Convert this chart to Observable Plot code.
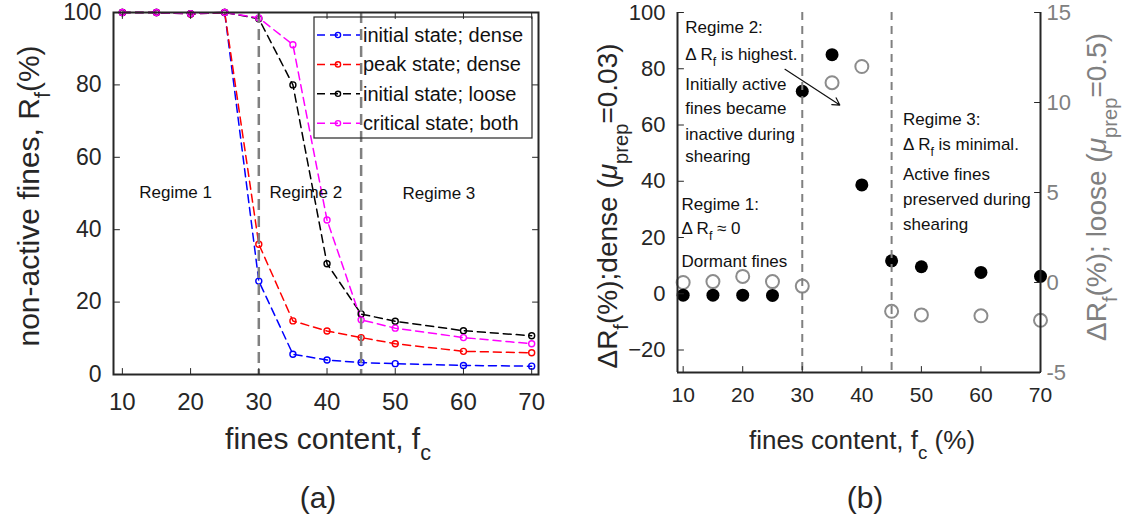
<!DOCTYPE html>
<html><head><meta charset="utf-8">
<script src="https://cdn.jsdelivr.net/npm/d3@7"></script>
<script src="https://cdn.jsdelivr.net/npm/@observablehq/plot@0.6"></script>
<style>
body{margin:0;background:#fff;}
#wrap{position:relative;width:1128px;height:522px;overflow:hidden;background:#fff;}
#wrap svg{position:absolute;top:0;}
</style></head><body><div id="wrap"></div>
<script>
// ---------- data ----------
const fines = [10, 15, 20, 25, 30, 35, 40, 45, 50, 60, 70];
const initialDense  = [100, 100, 99.6, 100, 25.8, 5.6, 4.0, 3.3, 3.0, 2.5, 2.3];
const peakDense     = [100, 100, 99.6, 100, 36.0, 14.8, 12.0, 10.2, 8.5, 6.4, 6.0];
const initialLoose  = [100, 100, 99.7, 100, 98.3, 80.0, 30.6, 16.7, 14.7, 12.1, 10.7];
const criticalBoth  = [100, 100, 99.7, 100, 98.5, 91.1, 42.7, 15.1, 12.8, 10.2, 8.5];
const seriesNames = ["initial state; dense", "peak state; dense", "initial state; loose", "critical state; both"];
const seriesColors = ["#0000ff", "#ff0000", "#000000", "#ff00ff"];
const regimeBounds = [30, 45];
const deltaDense = [-0.5, -0.5, -0.5, -0.6, 72.0, 85.0, 38.7, 11.7, 9.6, 7.6, 6.2];
const deltaLoose = [0.0, 0.05, 0.34, 0.05, -0.2, 11.1, 12.0, -1.6, -1.8, -1.85, -2.1];
const xTicks = [10, 20, 30, 40, 50, 60, 70];
const yTicksA = [0, 20, 40, 60, 80, 100];
const yTicksB = [-20, 0, 20, 40, 60, 80, 100];
const yTicksBRight = [-5, 0, 5, 10, 15];
const regimeLabelsA = [
  {fc: 17.8, v: 50.4, text: "Regime 1"},
  {fc: 36.9, v: 50.4, text: "Regime 2"},
  {fc: 56.4, v: 50.0, text: "Regime 3"}
];
const notesB = [
  {fc: 10.45, v: 94.7, parts: [["Regime 2:"]]},
  {fc: 10.45, v: 85.1, parts: [["\u0394 R"], ["f", "sub"], [" is highest."]]},
  {fc: 10.45, v: 74.5, parts: [["Initially active"]]},
  {fc: 10.45, v: 65.7, parts: [["fines became"]]},
  {fc: 10.45, v: 56.8, parts: [["inactive during"]]},
  {fc: 10.45, v: 48.7, parts: [["shearing"]]},
  {fc: 47.0, v: 62.1, parts: [["Regime 3:"]]},
  {fc: 47.0, v: 53.2, parts: [["\u0394 R"], ["f", "sub"], [" is minimal."]]},
  {fc: 47.0, v: 42.3, parts: [["Active fines"]]},
  {fc: 47.0, v: 33.5, parts: [["preserved during"]]},
  {fc: 47.0, v: 24.6, parts: [["shearing"]]},
  {fc: 9.8, v: 31.7, parts: [["Regime 1:"]]},
  {fc: 9.8, v: 23.2, parts: [["\u0394 R"], ["f", "sub"], [" \u2248 0"]]},
  {fc: 9.8, v: 11.5, parts: [["Dormant fines"]]}
];
const arrowB = [{x1: 27.1, y1: 79.8, x2: 36.3, y2: 67.1}];

// ---------- helpers ----------
const FONT = "'Liberation Sans', Arial, Helvetica, sans-serif";
const INK = "#262626";
const tickShape = {draw(ctx, l) { ctx.moveTo(0, 0); ctx.lineTo(0, -l); }};
function inTicks(data, ch, frameAnchor, rotate, stroke = INK) {
  return Plot.vector(data, {[ch]: d => d, frameAnchor, rotate, length: 6, anchor: "start", shape: tickShape, stroke, strokeWidth: 1});
}
function richText(svg, {x, y, parts, size, anchor = "start", rotate = 0, fill = INK}) {
  const t = d3.select(svg).append("text")
    .attr("transform", `translate(${x},${y})` + (rotate ? ` rotate(${rotate})` : ""))
    .attr("text-anchor", anchor).attr("font-size", size).attr("fill", fill)
    .attr("font-family", FONT);
  let shift = 0;
  for (const [s, mode, italic] of parts) {
    const target = mode === "sub" ? size * 0.38 : 0;
    const ts = t.append("tspan").text(s).attr("dy", target - shift);
    if (mode === "sub") ts.attr("font-size", size * 0.72);
    if (italic) ts.attr("font-style", "italic");
    shift = target;
  }
  return t;
}
const wrap = document.getElementById("wrap");

// ---------- panel (a) ----------
const rowsA = [];
[initialDense, peakDense, initialLoose, criticalBoth].forEach((vals, s) =>
  vals.forEach((v, i) => rowsA.push({fc: fines[i], rf: v, series: seriesNames[s]})));

const plotA = Plot.plot({
  width: 560, height: 522,
  marginLeft: 113, marginRight: 22, marginTop: 12, marginBottom: 148,
  x: {domain: [8.7, 71], label: null},
  y: {domain: [0, 100], label: null},
  color: {domain: seriesNames, range: seriesColors},
  style: {fontFamily: FONT, fontSize: "23px", color: INK, background: "transparent", overflow: "visible"},
  marks: [
    Plot.line(rowsA, {x: "fc", y: "rf", z: "series", stroke: "series", strokeWidth: 1.5, strokeDasharray: "8,5"}),
    Plot.dot(rowsA, {x: "fc", y: "rf", stroke: "series", r: 3, strokeWidth: 1.4}),
    Plot.ruleX(regimeBounds, {stroke: "#808080", strokeWidth: 2.5, strokeDasharray: "11,6"}),
    Plot.text(regimeLabelsA, {x: "fc", y: "v", text: "text", fontSize: 17, fill: "#111"}),
    Plot.axisX(xTicks, {anchor: "bottom", tickSize: 0, tickPadding: 18, fontSize: 24, label: null}),
    Plot.axisY(yTicksA, {anchor: "left", tickSize: 0, tickPadding: 12, fontSize: 23, label: null}),
    inTicks(xTicks, "x", "bottom", 0),
    inTicks(xTicks, "x", "top", 180),
    inTicks(yTicksA, "y", "left", 90),
    inTicks(yTicksA, "y", "right", -90),
    Plot.frame({stroke: INK, strokeWidth: 2})
  ]
});
plotA.style.left = "0px";
wrap.appendChild(plotA);

// legend (a)
{
  const lg = d3.select(plotA).append("g").attr("text-anchor", "start");
  lg.append("rect").attr("x", 314).attr("y", 17).attr("width", 218).attr("height", 121)
    .attr("fill", "none").attr("stroke", INK).attr("stroke-width", 1.2);
  seriesNames.forEach((name, i) => {
    const y = 35 + i * 29.4;
    lg.append("line").attr("x1", 317).attr("x2", 360).attr("y1", y).attr("y2", y)
      .attr("stroke", seriesColors[i]).attr("stroke-width", 1.5).attr("stroke-dasharray", "8,5");
    lg.append("circle").attr("cx", 338).attr("cy", y).attr("r", 2.6)
      .attr("fill", "none").attr("stroke", seriesColors[i]).attr("stroke-width", 1.4);
    lg.append("text").attr("x", 363).attr("y", y + 7).attr("font-size", 20)
      .attr("text-anchor", "start")
      .attr("font-family", FONT).attr("fill", "#111").text(name);
  });
}
richText(plotA, {x: 39, y: 196, rotate: -90, anchor: "middle", size: 30,
  parts: [["non-active fines, R"], ["f", "sub"], ["(%)"]]});
richText(plotA, {x: 328, y: 449, anchor: "middle", size: 30,
  parts: [["fines content, f"], ["c", "sub"]]});
richText(plotA, {x: 318, y: 508, anchor: "middle", size: 30, parts: [["(a)"]]});

// ---------- panel (b) ----------
const yDomB = [-28, 100];
const yDomBRight = [-5, 15];
const xDomB = [9.05, 70];
const rightToLeft = d3.scaleLinear(yDomBRight, yDomB);
const rowsB = fines.map((fc, i) => ({fc, dense: deltaDense[i], loose: deltaLoose[i]}));

const plotB = Plot.plot({
  width: 568, height: 522,
  marginLeft: 117, marginRight: 88, marginTop: 12, marginBottom: 150,
  x: {domain: xDomB, label: null},
  y: {domain: yDomB, label: null},
  style: {fontFamily: FONT, fontSize: "21px", color: INK, background: "transparent", overflow: "visible"},
  marks: [
    Plot.dot(rowsB, {x: "fc", y: d => rightToLeft(d.loose), r: 6.5, stroke: "#8c8c8c", strokeWidth: 2, fill: "none"}),
    Plot.dot(rowsB, {x: "fc", y: "dense", r: 6.5, fill: "#000"}),
    Plot.ruleX(regimeBounds, {stroke: "#808080", strokeWidth: 2, strokeDasharray: "8,6"}),
    Plot.arrow(arrowB, {x1: "x1", y1: "y1", x2: "x2", y2: "y2", stroke: "#111", strokeWidth: 1.2, headLength: 10}),
    Plot.axisX(xTicks, {anchor: "bottom", tickSize: 0, tickPadding: 15, fontSize: 21, label: null}),
    Plot.axisY(yTicksB, {anchor: "left", tickSize: 0, tickPadding: 12, fontSize: 22, label: null}),
    Plot.axisY(yTicksBRight.map(v => rightToLeft(v)), {anchor: "right", tickSize: 0, tickPadding: 6, fontSize: 22,
      color: "#808080", label: null, tickFormat: d => String(Math.round(rightToLeft.invert(d)))}),
    inTicks(xTicks, "x", "bottom", 0),
    inTicks(yTicksB, "y", "left", 90),
    inTicks(yTicksBRight.map(v => rightToLeft(v)), "y", "right", -90),
    Plot.ruleX([xDomB[0], xDomB[1]], {stroke: INK, strokeWidth: 2}),
    Plot.ruleY([yDomB[0]], {stroke: INK, strokeWidth: 2})
  ]
});
plotB.style.left = "560px";
wrap.appendChild(plotB);

{
  const sx = plotB.scale("x"), sy = plotB.scale("y");
  notesB.forEach(n => richText(plotB, {x: sx.apply(n.fc), y: sy.apply(n.v) + 6, size: 17, parts: n.parts, fill: "#111"}));
}
richText(plotB, {x: 57, y: 206, rotate: -90, anchor: "middle", size: 28,
  parts: [["\u0394R"], ["f", "sub"], ["(%);dense ("], ["\u03bc", null, true], ["prep", "sub"], ["=0.03)"]]});
richText(plotB, {x: 546, y: 187, rotate: -90, anchor: "middle", size: 28, fill: "#808080",
  parts: [["\u0394R"], ["f", "sub"], ["(%); loose ("], ["\u03bc", null, true], ["prep", "sub"], ["=0.5)"]]});
richText(plotB, {x: 302, y: 449, anchor: "middle", size: 26,
  parts: [["fines content, f"], ["c", "sub"], [" (%)"]]});
richText(plotB, {x: 305, y: 508, anchor: "middle", size: 30, parts: [["(b)"]]});
</script></body></html>
